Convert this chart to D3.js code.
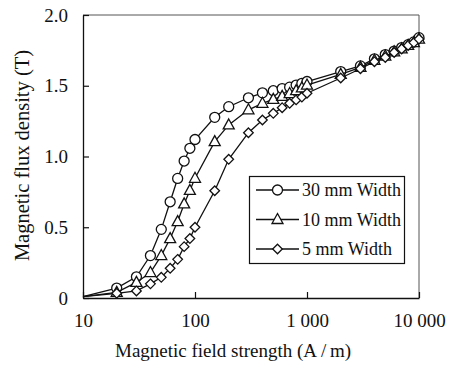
<!DOCTYPE html>
<html>
<head>
<meta charset="utf-8">
<script src="https://cdn.jsdelivr.net/npm/d3@7"></script>
<style>
  body { margin: 0; background: #fff; }
  svg { display: block; }
</style>
</head>
<body>
<svg id="chart" width="452" height="367"></svg>
<script>
// H values (A/m)
const fieldStrength = [10, 20, 30, 40, 50, 60, 70, 80, 90, 100, 150, 200, 300, 400, 500, 600, 700, 800, 900, 1000,
                       2000, 3000, 4000, 5000, 6000, 7000, 8000, 9000, 10000];
// B values (T) per strip width
const b30mm = [0.01, 0.07, 0.15, 0.30, 0.485, 0.68, 0.845, 0.968, 1.058, 1.12, 1.277, 1.352, 1.415, 1.45, 1.465, 1.48, 1.49, 1.505, 1.517, 1.53,
               1.60, 1.64, 1.69, 1.72, 1.745, 1.77, 1.79, 1.81, 1.84];
const b10mm = [0.01, 0.04, 0.11, 0.18, 0.30, 0.42, 0.54, 0.665, 0.76, 0.846, 1.105, 1.223, 1.33, 1.376, 1.404, 1.425, 1.445, 1.465, 1.485, 1.505,
               1.58, 1.63, 1.68, 1.71, 1.74, 1.76, 1.785, 1.805, 1.83];
const b5mm  = [0.01, 0.033, 0.05, 0.10, 0.146, 0.21, 0.273, 0.363, 0.42, 0.50, 0.758, 0.98, 1.168, 1.258, 1.305, 1.345, 1.376, 1.40, 1.42, 1.447,
               1.555, 1.62, 1.67, 1.70, 1.735, 1.76, 1.785, 1.805, 1.83];

const seriesNames = ["30 mm Width", "10 mm Width", "5 mm Width"];
const seriesShapes = ["circle", "triangle", "diamond"];
const xTicks = [10, 100, 1000, 10000];
const xTickLabels = ["10", "100", "1 000", "10 000"];
const yTicks = [0, 0.5, 1.0, 1.5, 2.0];
const yTickLabels = ["0", "0.5", "1.0", "1.5", "2.0"];

const font = "'Liberation Serif'";
const ink = "#111";

const svg = d3.select("#chart");
const plotL = 83, plotR = 419, plotT = 15, plotB = 298;

const x = d3.scaleLog().domain([10, 10000]).range([plotL, plotR]);
const y = d3.scaleLinear().domain([0, 2]).range([plotB, plotT]);

function markerPath(shape) {
  if (shape === "circle") return d3.symbol().type(d3.symbolCircle).size(Math.PI * 25)();
  if (shape === "triangle") return "M0,-6L5.5,4L-5.5,4Z";
  return "M0,-4.8L4.8,0L0,4.8L-4.8,0Z";
}

// frame top/right
svg.append("path")
  .attr("d", "M" + plotL + "," + plotT + "H" + plotR + "V" + plotB)
  .attr("fill", "none").attr("stroke", "#555").attr("stroke-width", 1);

// axes
const xAxis = svg.append("g")
  .attr("transform", "translate(0," + plotB + ")")
  .call(d3.axisBottom(x).tickValues(xTicks).tickFormat((d, i) => xTickLabels[i]).tickSizeInner(-6).tickSizeOuter(0).tickPadding(16));
const yAxis = svg.append("g")
  .attr("transform", "translate(" + plotL + ",0)")
  .call(d3.axisLeft(y).tickValues(yTicks).tickFormat((d, i) => yTickLabels[i]).tickSizeInner(-6).tickSizeOuter(0).tickPadding(15));

[xAxis, yAxis].forEach(g => {
  g.attr("font-family", null).attr("font-size", null);
  g.select(".domain").attr("stroke", ink).attr("stroke-width", 1.3);
  g.selectAll(".tick line").attr("stroke", ink).attr("stroke-width", 1.2);
  g.selectAll(".tick text")
    .style("font-family", font).style("font-size", "19px").attr("fill", ink);
});

// axis titles
svg.append("text")
  .attr("x", 115).attr("y", 357)
  .style("font-family", font).style("font-size", "19px").attr("fill", ink)
  .text("Magnetic field strength (A\u2009/\u2009m)");
svg.append("text")
  .attr("transform", "translate(28.5,155.5) rotate(-90)")
  .attr("text-anchor", "middle")
  .style("font-family", font).style("font-size", "20.5px").attr("fill", ink)
  .text("Magnetic flux density (T)");

// series
const seriesData = [b30mm, b10mm, b5mm];
const line = d3.line().x(d => x(d[0])).y(d => y(d[1]));

seriesData.forEach((vals, si) => {
  const pts = fieldStrength.map((h, i) => [h, vals[i]]);
  const g = svg.append("g");
  g.append("path")
    .attr("d", line(pts))
    .attr("fill", "none").attr("stroke", ink).attr("stroke-width", 1.3);
  g.selectAll("path.mk")
    .data(pts.filter(d => d[0] > 10))
    .enter().append("path")
    .attr("class", "mk")
    .attr("d", markerPath(seriesShapes[si]))
    .attr("transform", d => "translate(" + x(d[0]) + "," + y(d[1]) + ")")
    .attr("fill", "#fff").attr("stroke", ink).attr("stroke-width", 1.3);
});

// legend
const legend = svg.append("g");
legend.append("rect")
  .attr("x", 249.5).attr("y", 176.5).attr("width", 155).attr("height", 87)
  .attr("fill", "#fff").attr("stroke", ink).attr("stroke-width", 1.2);
seriesNames.forEach((name, i) => {
  const ly = 190 + i * 29.5;
  legend.append("line")
    .attr("x1", 256).attr("x2", 299).attr("y1", ly).attr("y2", ly)
    .attr("stroke", ink).attr("stroke-width", 1.3);
  legend.append("path")
    .attr("d", markerPath(seriesShapes[i]))
    .attr("transform", "translate(277.5," + ly + ")")
    .attr("fill", "#fff").attr("stroke", ink).attr("stroke-width", 1.3);
  legend.append("text")
    .attr("x", 302).attr("y", ly + 6)
    .style("font-family", font).style("font-size", "18px").attr("fill", ink)
    .text(name);
});
</script>
</body>
</html>
